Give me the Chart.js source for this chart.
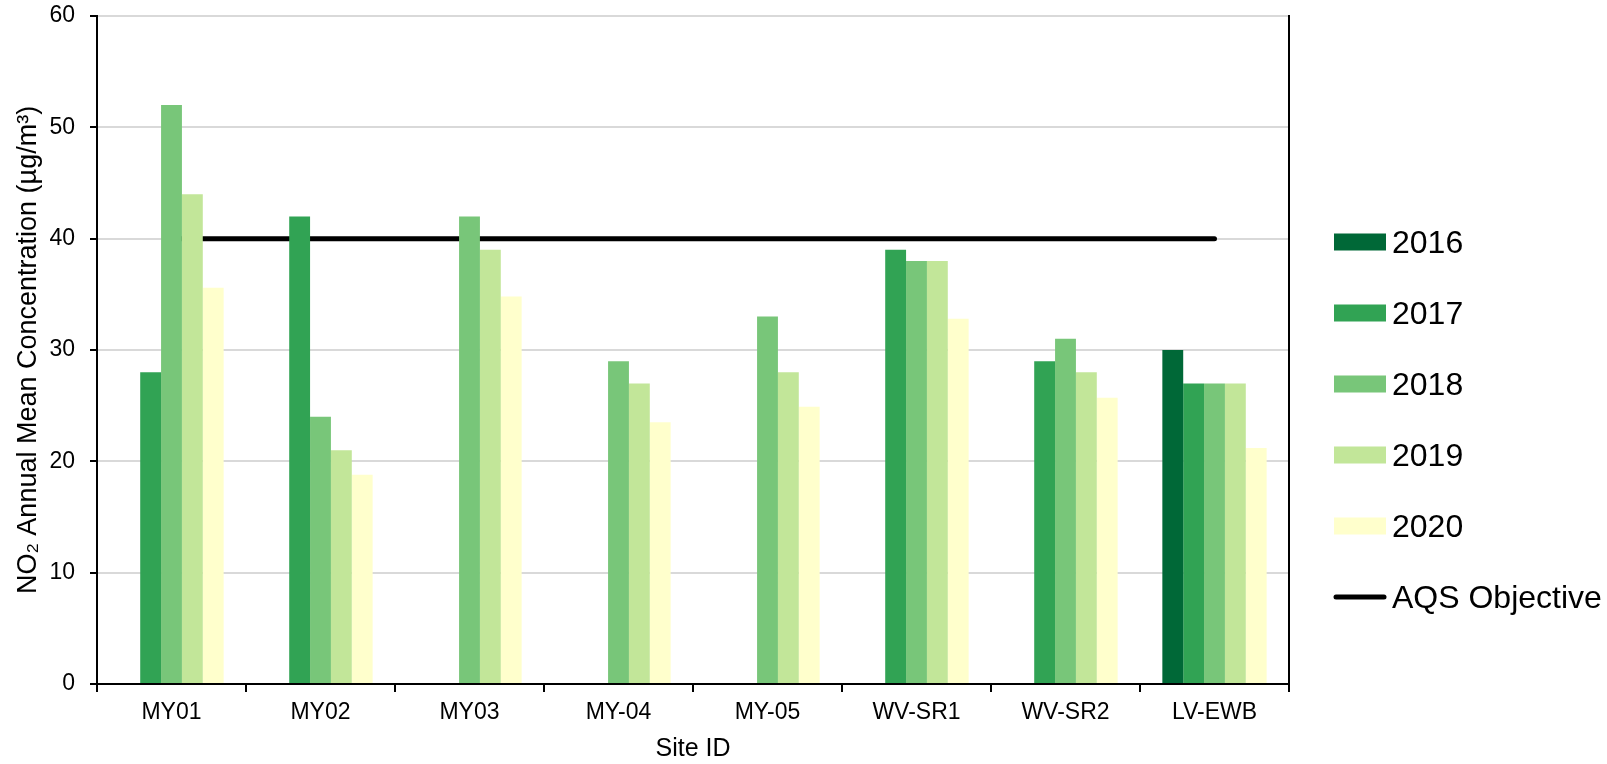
<!DOCTYPE html>
<html>
<head>
<meta charset="utf-8">
<script src="https://cdn.jsdelivr.net/npm/chart.js@4.4.0/dist/chart.umd.min.js"></script>
<style>
  html, body { margin: 0; padding: 0; background: #fff; }
  #wrap { width: 1607px; height: 764px; position: relative; }
</style>
</head>
<body>
<div id="wrap"><canvas id="c" width="1607" height="764"></canvas></div>
<script>
const categories = ['MY01', 'MY02', 'MY03', 'MY-04', 'MY-05', 'WV-SR1', 'WV-SR2', 'LV-EWB'];
const y2016 = [null, null, null, null, null, null, null, 30];
const y2017 = [28, 42, null, null, null, 39, 29, 27];
const y2018 = [52, 24, 42, 29, 33, 38, 31, 27];
const y2019 = [44, 21, 39, 27, 28, 38, 28, 27];
const y2020 = [35.6, 18.8, 34.8, 23.5, 24.9, 32.8, 25.7, 21.2];
const aqsObjective = [40, 40, 40, 40, 40, 40, 40, 40];
const yTicks = [0, 10, 20, 30, 40, 50, 60];

const FONT = "'Liberation Sans', Arial, 'DejaVu Sans', sans-serif";

const legendPlugin = {
  id: 'sideLegend',
  afterDraw(chart) {
    const ctx = chart.ctx;
    const x0 = 1334, boxW = 52, boxH = 17, textX = 1392, firstY = 242, step = 71, fs = 32;
    ctx.save();
    ctx.font = fs + 'px ' + FONT;
    ctx.textAlign = 'left';
    ctx.textBaseline = 'alphabetic';
    chart.data.datasets.forEach((ds, i) => {
      const cy = firstY + i * step;
      if (ds.type === 'line') {
        ctx.strokeStyle = ds.borderColor;
        ctx.lineWidth = ds.borderWidth;
        ctx.lineCap = 'round';
        ctx.beginPath();
        ctx.moveTo(x0 + 2, cy);
        ctx.lineTo(x0 + boxW - 2, cy);
        ctx.stroke();
      } else {
        ctx.fillStyle = ds.backgroundColor;
        ctx.fillRect(x0, cy - boxH / 2, boxW, boxH);
      }
      ctx.fillStyle = '#000';
      ctx.fillText(ds.label, textX, cy + fs * 0.358);
    });
    ctx.restore();
  }
};

new Chart(document.getElementById('c'), {
  data: {
    labels: categories,
    datasets: [
      { type: 'bar', label: '2016', data: y2016, backgroundColor: '#006837', order: 0 },
      { type: 'bar', label: '2017', data: y2017, backgroundColor: '#31a354', order: 0 },
      { type: 'bar', label: '2018', data: y2018, backgroundColor: '#78c679', order: 0 },
      { type: 'bar', label: '2019', data: y2019, backgroundColor: '#c2e699', order: 0 },
      { type: 'bar', label: '2020', data: y2020, backgroundColor: '#ffffcc', order: 0 },
      { type: 'line', label: 'AQS Objective', data: aqsObjective, borderColor: '#000', borderWidth: 5,
        borderCapStyle: 'round', pointRadius: 0, fill: false, order: 1 }
    ]
  },
  options: {
    responsive: false,
    animation: false,
    layout: { padding: { left: 0, right: 318, top: 16, bottom: 0 } },
    datasets: { bar: { categoryPercentage: 0.7, barPercentage: 1.0 } },
    plugins: { legend: { display: false }, tooltip: { enabled: false } },
    scales: {
      x: {
        type: 'category',
        offset: true,
        grid: { offset: true, drawOnChartArea: false, drawTicks: true, tickLength: 8, tickColor: '#000', lineWidth: 2 },
        border: { display: true, color: '#000', width: 2 },
        ticks: { color: '#000', font: { family: FONT, size: 23 }, padding: 7, maxRotation: 0, autoSkip: false },
        title: { display: true, text: 'Site ID', color: '#000', font: { family: FONT, size: 25 }, padding: { top: 0, bottom: 0 } },
        afterFit(scale) { scale.height = 80; }
      },
      y: {
        type: 'linear',
        min: 0, max: 60,
        afterBuildTicks(scale) { scale.ticks = yTicks.map(v => ({ value: v })); },
        grid: { color: '#d9d9d9', lineWidth: 2, tickLength: 7, tickColor: '#000' },
        border: { display: true, color: '#000', width: 2 },
        ticks: { color: '#000', font: { family: FONT, size: 23 }, padding: 15 },
        title: { display: true, text: 'NO\u2082 Annual Mean Concentration (\u00b5g/m\u00b3)', color: '#000', font: { family: FONT, size: 27 }, padding: { top: 12, bottom: 0 } },
        afterFit(scale) { scale.width = 97; scale.paddingTop = 0; scale.paddingBottom = 0; }
      },
      y2: {
        type: 'linear',
        position: 'right',
        min: 0, max: 60,
        grid: { display: false, drawTicks: false },
        ticks: { display: false },
        border: { display: true, color: '#000', width: 2 }
      }
    }
  },
  plugins: [legendPlugin]
});
</script>
</body>
</html>
